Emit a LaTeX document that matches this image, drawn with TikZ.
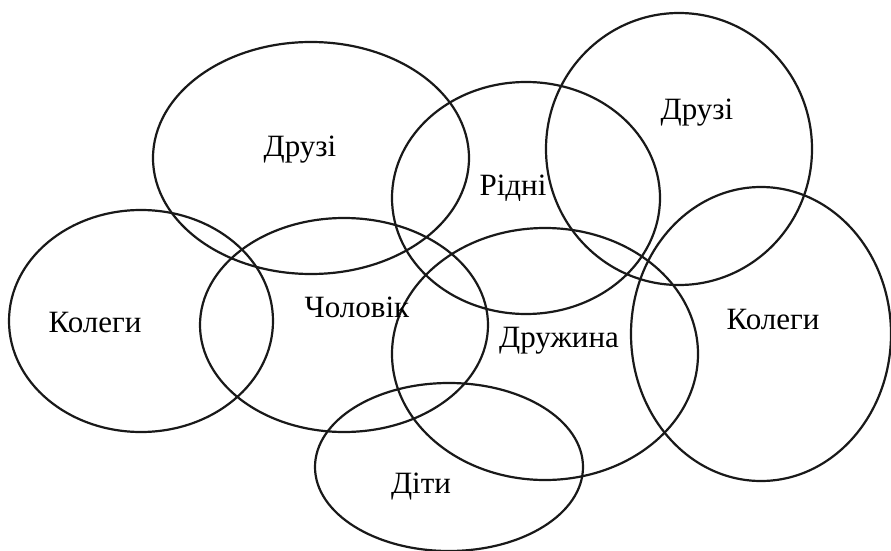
\documentclass[tikz,border=0pt]{standalone}
\usepackage{fontspec}
\setmainfont{Liberation Serif}
\newfontfamily\labfont{Liberation Serif}
\usetikzlibrary{shapes.geometric}
\begin{document}
\begin{tikzpicture}[x=1pt,y=-1pt,
  ring/.style={draw=black!90,line width=2.2pt,ellipse,inner sep=0pt},
  lab/.style={font=\labfont\fontsize{31}{34}\selectfont,inner sep=0pt}]
\useasboundingbox (0,0) rectangle (891,551);
\fill[white] (0,0) rectangle (891,551);
\node[ring,minimum width=316pt,minimum height=232pt] (fr1) at (311,158) {};
\node[ring,minimum width=268pt,minimum height=232pt] (rel) at (526,198) {};
\node[ring,minimum width=266pt,minimum height=272pt] (fr2) at (679,149) {};
\node[ring,minimum width=264pt,minimum height=222pt] (col1) at (141,321) {};
\node[ring,minimum width=288pt,minimum height=214pt] (hus) at (344,325) {};
\node[ring,minimum width=306pt,minimum height=252pt] (wif) at (545,354) {};
\node[ring,minimum width=260pt,minimum height=294pt] (col2) at (761,334) {};
\node[ring,minimum width=268pt,minimum height=168pt] (kid) at (449,467) {};
\node[lab] (tfr1) at (300,150) {Друзі};
\node[lab] (trel) at (513,188) {Рідні};
\node[lab] (tfr2) at (697,113) {Друзі};
\node[lab] (tcol1) at (95,322) {Колеги};
\node[lab] (thus) at (357,307) {Чоловік};
\node[lab] (twif) at (559,341) {Дружина};
\node[lab] (tcol2) at (773,319) {Колеги};
\node[lab] (tkid) at (421,487) {Діти};
\end{tikzpicture}
\end{document}
